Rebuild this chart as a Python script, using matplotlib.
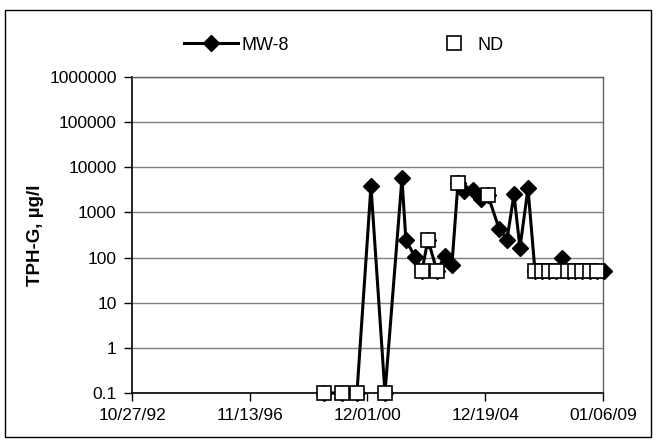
import matplotlib
matplotlib.use("Agg")
import matplotlib.pyplot as plt
from matplotlib.lines import Line2D
from matplotlib.patches import Rectangle
import pandas as pd

# ---- data ----
dates = ["1999-06-04", "2000-01-16", "2000-07-22", "2001-01-14", "2001-07-09",
         "2002-02-07", "2002-03-29", "2002-07-21", "2002-10-16", "2002-12-31",
         "2003-04-23", "2003-08-01", "2003-10-28", "2004-01-12", "2004-03-27",
         "2004-07-18", "2004-10-26", "2005-01-22", "2005-06-10", "2005-09-18",
         "2005-12-15", "2006-02-28", "2006-06-09", "2006-09-05", "2006-12-01",
         "2007-02-28", "2007-05-27", "2007-08-10", "2007-10-24", "2008-01-20",
         "2008-04-17", "2008-07-26", "2008-10-24", "2009-01-18"]
values = [0.1, 0.1, 0.1, 3800, 0.1,
          5700, 240, 105, 50, 250,
          50, 110, 70, 4600, 3000,
          3200, 2000, 2400, 440, 250,
          2500, 165, 3400, 50, 50,
          50, 50, 100, 50, 50,
          50, 50, 50, 50]
nd = [1, 1, 1, 0, 1,
      0, 0, 0, 1, 1,
      1, 0, 0, 1, 0,
      0, 0, 1, 0, 0,
      0, 0, 0, 1, 1,
      1, 1, 0, 1, 1,
      1, 1, 1, 0]
series_label = "MW-8"
nd_label = "ND"
y_label = "TPH-G, µg/l"
x_tick_labels = ["10/27/92", "11/13/96", "12/01/00", "12/19/04", "01/06/09"]
y_tick_values = [0.1, 1, 10, 100, 1000, 10000, 100000, 1000000]
y_tick_labels = ["0.1", "1", "10", "100", "1000", "10000", "100000", "1000000"]

plt.rcParams['font.family'] = ['Liberation Sans', 'DejaVu Sans']

W, H = 657, 442
fig = plt.figure(figsize=(W / 100, H / 100), dpi=100)
L, R, T, B = 132, 603, 77, 393
ax = fig.add_axes([L / W, 1 - B / H, (R - L) / W, (B - T) / H])

d = pd.to_datetime(dates)
x_ticks = pd.to_datetime(x_tick_labels, format="%m/%d/%y")

ax.set_yscale("log")
ax.set_ylim(y_tick_values[0], y_tick_values[-1])
ax.set_xlim(x_ticks[0], x_ticks[-1])

ax.set_yticks(y_tick_values)
ax.set_yticklabels(y_tick_labels)
ax.yaxis.set_minor_locator(matplotlib.ticker.NullLocator())
ax.set_xticks(x_ticks)
ax.set_xticklabels(x_tick_labels)

ax.grid(axis="y", which="major", color="#808080", lw=1.0)
ax.set_axisbelow(True)

for s in ["top", "right"]:
    ax.spines[s].set_color("#606060")
    ax.spines[s].set_linewidth(1.0)
ax.spines["left"].set_color("black")
ax.spines["bottom"].set_color("black")
ax.spines["left"].set_linewidth(1.2)
ax.spines["bottom"].set_linewidth(1.2)

ax.tick_params(axis="both", direction="out", length=6, width=1, color="black",
               labelsize=12.5, pad=5)
ax.tick_params(axis="x", pad=5)

ax.plot(d, values, color="black", lw=2.2, marker="D", ms=8,
        mfc="black", mec="black", zorder=3, clip_on=False)
d_nd = [dd for dd, f in zip(d, nd) if f]
v_nd = [v for v, f in zip(values, nd) if f]
ax.plot(d_nd, v_nd, ls="none", marker="s", ms=9.5, mfc="white", mec="black",
        mew=1.2, zorder=4, clip_on=False)

ax.set_ylabel(y_label, fontsize=13.5, fontweight="bold", labelpad=4)

h1 = Line2D([], [], color="black", lw=2.2, marker="D", ms=8, mfc="black")
h2 = Line2D([], [], ls="none", marker="s", ms=9.5, mfc="white", mec="black", mew=1.2)
fig.legend([h1], [series_label], loc="center left", bbox_to_anchor=(184 / W, 1 - 45 / H),
           frameon=False, handlelength=3.0, handletextpad=0.2, borderpad=0,
           borderaxespad=0, fontsize=13)
fig.legend([h2], [nd_label], loc="center left", bbox_to_anchor=(445 / W, 1 - 45 / H),
           frameon=False, handlelength=1.0, handletextpad=0.8, borderpad=0,
           borderaxespad=0, fontsize=13)

fig.add_artist(Rectangle((5 / W, 5 / H), (651 - 5) / W, (437 - 10) / H,
                         transform=fig.transFigure, fill=False, ec="black", lw=1))

fig.savefig("out.png", dpi=100)
